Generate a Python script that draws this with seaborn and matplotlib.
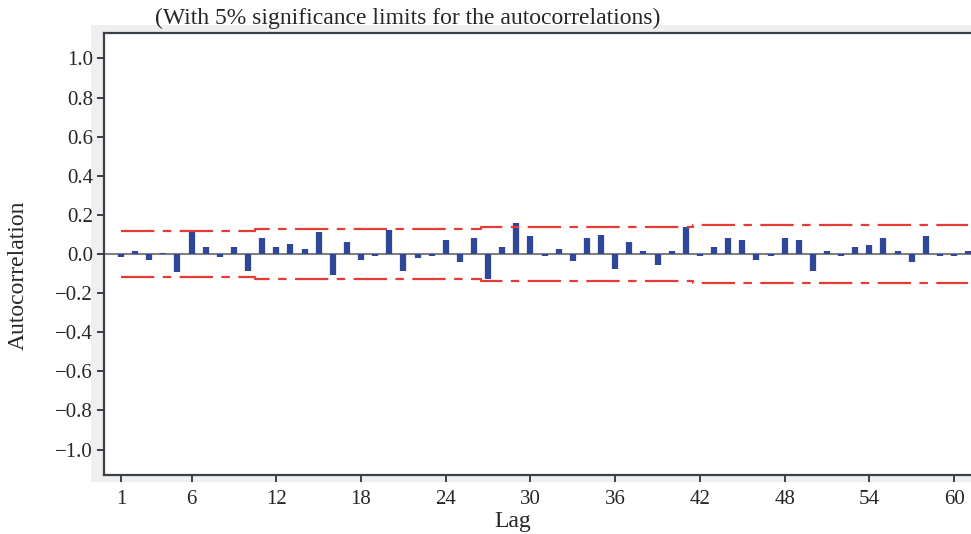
import matplotlib
matplotlib.use("Agg")
import matplotlib.pyplot as plt
import numpy as np
import pandas as pd
import seaborn as sns
from matplotlib.patches import Rectangle

# autocorrelation per lag
lags = list(range(1, 62))
acf = [-0.015, 0.015, -0.03, 0.005, -0.09, 0.12, 0.035, -0.014, 0.035, -0.088,
       0.08, 0.035, 0.05, 0.025, 0.115, -0.105, 0.06, -0.03, -0.012, 0.125,
       -0.085, -0.02, -0.012, 0.072, -0.04, 0.08, -0.128, 0.035, 0.16, 0.09,
       -0.012, 0.025, -0.037, 0.08, 0.098, -0.077, 0.06, 0.017, -0.058, 0.017,
       0.14, -0.012, 0.035, 0.08, 0.072, -0.031, -0.012, 0.08, 0.072, -0.085,
       0.014, -0.012, 0.034, 0.044, 0.08, 0.017, -0.04, 0.09, -0.012, -0.012,
       0.014]
# 5% significance limit per lag
limit = [0.118] * 10 + [0.126] * 16 + [0.136] * 15 + [0.146] * 20
yticks = [1.0, 0.8, 0.6, 0.4, 0.2, 0.0, -0.2, -0.4, -0.6, -0.8, -1.0]
xticks = [1, 6, 12, 18, 24, 30, 36, 42, 48, 54, 60]

df = pd.DataFrame({"lag": lags, "acf": acf, "limit": limit})

sns.set_style("white")
plt.rcParams["font.family"] = ["Liberation Serif", "DejaVu Serif"]
plt.rcParams["axes.unicode_minus"] = True

W, H = 971, 534
fig = plt.figure(figsize=(W / 100, H / 100), dpi=100)
# light grey graph region behind the frame
bg = fig.add_axes([91 / W, 1 - 482 / H, 1, (482 - 25) / H], zorder=-5)
bg.axis("off")
bg.add_patch(Rectangle((0, 0), 1, 1, transform=bg.transAxes,
                       facecolor="#efefef", edgecolor="none"))

ax = fig.add_axes([104 / W, 1 - 475 / H, 880 / W, (475 - 33) / H], zorder=1)
ax.set_facecolor("white")

ax.axhline(0, color="#808080", lw=1.5, zorder=1)
ax.vlines(df["lag"], 0, df["acf"], color="#2e4799", lw=4.5, zorder=2)

red = "#e63a35"
sns.lineplot(data=df, x="lag", y="limit", ax=ax, color=red, lw=1.6,
             drawstyle="steps-mid", zorder=3)
lo = df.assign(limit=-df["limit"])
sns.lineplot(data=lo, x="lag", y="limit", ax=ax, color=red, lw=1.6,
             drawstyle="steps-mid", zorder=3)
for ln in ax.lines[-2:]:
    ln.set_dashes((15, 3.8, 3.8, 3.8))

ax.set_xlim(1 - 17 / 14.12, 1 + 863 / 14.12)
ax.set_ylim(-1.13, 1.13)
ax.set_xticks(xticks)
ax.set_xticklabels([str(t) for t in xticks])
ax.set_yticks(yticks)
ax.set_yticklabels([f"{t:.1f}".replace("-", "\u2212") for t in yticks])
ax.tick_params(axis="both", direction="out", length=5, width=1.4,
               color="#3a4048", labelsize=15, pad=3, bottom=True, left=True)
ax.tick_params(axis="x", pad=6)

for side in ["left", "top", "bottom"]:
    ax.spines[side].set_color("#3a4048")
    ax.spines[side].set_linewidth(1.6)
ax.spines["right"].set_visible(False)

ax.set_xlabel("Lag", fontsize=17)
ax.set_ylabel("Autocorrelation", fontsize=17)
ax.xaxis.set_label_coords((513 - 104) / 880, -(522 - 475) / 442, transform=ax.transAxes)
ax.yaxis.set_label_coords(-(18 - 104) / -880, (475 - 275) / 442, transform=ax.transAxes)
ax.xaxis.label.set_va("center")
ax.yaxis.label.set_va("center")

fig.text(155 / W, 1 - 18 / H, "(With 5% significance limits for the autocorrelations)",
         fontsize=17, ha="left", va="center")

fig.savefig("out.png", dpi=100)
